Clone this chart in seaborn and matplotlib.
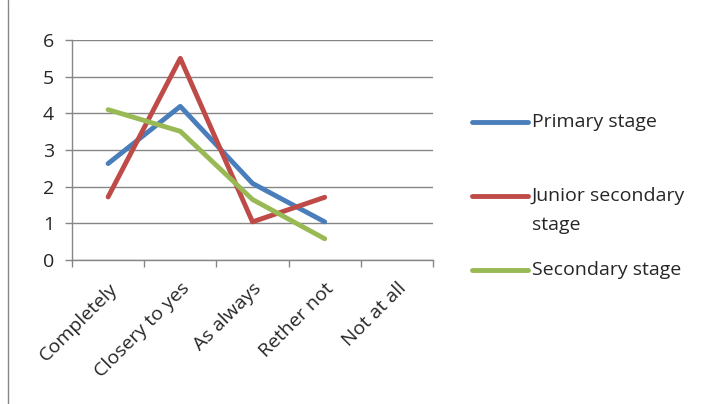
import numpy as np
import pandas as pd
import seaborn as sns
import matplotlib.pyplot as plt
from matplotlib.lines import Line2D
from matplotlib.ticker import FixedLocator

categories = ['Completely', 'Closery to yes', 'As always', 'Rether not', 'Not at all']
primary = [2.63, 4.19, 2.09, 1.04, np.nan]
junior = [1.72, 5.5, 1.04, 1.71, np.nan]
secondary = [4.1, 3.51, 1.65, 0.58, np.nan]
series_names = ['Primary stage', 'Junior secondary stage', 'Secondary stage']
legend_lines = [['Primary stage'], ['Junior secondary', 'stage'], ['Secondary stage']]
colors = ['#4A7EBB', '#BE4B48', '#98B954']

W, H = 717, 404


def build_frame():
    rows = []
    for name, vals in zip(series_names, [primary, junior, secondary]):
        for i, v in enumerate(vals):
            rows.append({'pos': i, 'value': v, 'series': name})
    return pd.DataFrame(rows)


def main():
    sns.set_style('white')
    plt.rcParams['font.family'] = ['Open Sans', 'DejaVu Sans']

    df = build_frame()

    fig = plt.figure(figsize=(W / 100, H / 100), dpi=100)
    ax = fig.add_axes([72 / W, 1 - 260 / H, (433 - 72) / W, (260 - 40) / H])

    sns.lineplot(data=df.dropna(), x='pos', y='value', hue='series',
                 hue_order=series_names, palette=colors, linewidth=3.5,
                 ax=ax, legend=False)

    ax.set_xlim(-0.5, len(categories) - 0.5)
    ax.set_ylim(0, 6)
    ax.set_yticks(range(0, 7))
    ax.set_xticks(range(len(categories)))
    ax.set_xticklabels(categories, rotation=45, ha='right', rotation_mode='anchor', fontsize=14)
    ax.xaxis.set_minor_locator(FixedLocator(np.arange(-0.5, len(categories), 1)))
    ax.tick_params(axis='x', which='major', length=0, pad=14)
    ax.tick_params(axis='x', which='minor', length=5, width=1, color='#868686', direction='out', bottom=True)
    ax.tick_params(axis='y', length=5, width=1, color='#868686', direction='out', left=True, labelsize=14, pad=8)
    ax.set_xlabel('')
    ax.set_ylabel('')

    ax.grid(axis='y', color='#868686', linewidth=1)
    ax.set_axisbelow(True)
    for side in ['top', 'right']:
        ax.spines[side].set_visible(False)
    for side in ['left', 'bottom']:
        ax.spines[side].set_color('#868686')
        ax.spines[side].set_linewidth(1)

    # legend drawn by hand to get the Excel-like spacing
    entry_y = [122, 196, 270]
    for lines, color, y in zip(legend_lines, colors, entry_y):
        fig.add_artist(Line2D([472 / W, 528 / W], [1 - y / H] * 2, color=color,
                              linewidth=3.5, solid_capstyle='round'))
        for k, txt in enumerate(lines):
            fig.text(532 / W, 1 - (y + 29 * k) / H, txt, fontsize=14, va='center', ha='left')

    fig.add_artist(Line2D([8 / W, 8 / W], [0, 1], color='#868686', linewidth=1))

    fig.savefig('out.png', dpi=100)


if __name__ == '__main__':
    main()
